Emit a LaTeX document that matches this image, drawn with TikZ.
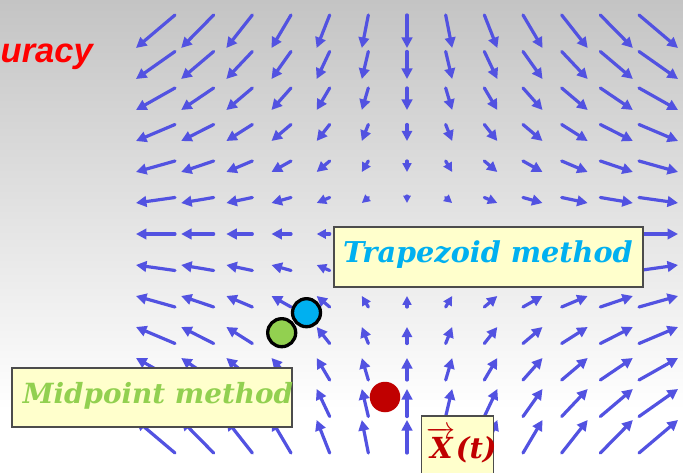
\RequirePackage{fix-cm}
\documentclass[tikz,border=0pt]{standalone}
\usepackage{fontspec}
\newfontfamily\arialfont{Liberation Sans}
\newfontfamily\notefont{DejaVu Serif}
\usetikzlibrary{arrows.meta,positioning}

\definecolor{fieldblue}{RGB}{82,82,225}
\definecolor{noteyellow}{RGB}{255,255,204}
\definecolor{trapblue}{RGB}{0,176,240}
\definecolor{midgreen}{RGB}{146,208,80}
\definecolor{xred}{RGB}{192,0,0}
\definecolor{bgtop}{RGB}{196,196,196}

\tikzset{
  field/.style={fieldblue, line width=3.2pt, line cap=round},
  notebox/.style={draw=black!70, line width=1.2pt, fill=noteyellow, inner sep=0pt},
  notetext/.style={inner sep=0pt, anchor=base, font=\notefont\bfseries\itshape},
  ringdot/.style={circle, draw=black, line width=3.3pt, inner sep=0pt, minimum size=28pt}
}

\begin{document}
\begin{tikzpicture}[x=1pt, y=1pt]
  \useasboundingbox (0,0) rectangle (683,472);
  \clip (0,0) rectangle (683,472);
  % background
  \fill[white] (0,0) rectangle (683,62);
  \shade[top color=bgtop, bottom color=white] (0,62) rectangle (683,472);
  % title, cut at the left edge
  \node[red, inner sep=0pt, anchor=base west, font=\arialfont\fontsize{34.5}{40}\selectfont\bfseries\itshape] (accuracy) at (0.5,409) {uracy};
  % saddle vector field
  \foreach \i in {-6,...,6}{
    \foreach \j in {-6,...,6}{
      \pgfmathsetmacro\vx{6.5*\i}
      \pgfmathsetmacro\vy{-5.5*\j}
      \pgfmathsetmacro\len{veclen(\vx,\vy)}
      \pgfmathsetmacro\hl{min(10.5,0.25*\len+6)}
      \ifdim\len pt>0.1pt
        \draw[field, -{Triangle[length=\hl pt, width=\hl pt]}] (407+38.67*\i, 238+36.5*\j) -- ++(\vx,\vy);
      \fi
    }
  }
  % trapezoid note
  \node[notebox, minimum width=309pt, minimum height=60pt] (trapbox) at (488.5,215) {};
  \node[notetext, trapblue] (trapnote) at (488,209.3) {\fontsize{28.7}{34}\selectfont Trapezoid method};
  % midpoint note
  \node[notebox, minimum width=280pt, minimum height=59pt] (midbox) at (152,74.5) {};
  \node[notetext, midgreen] (midnote) at (158,69) {\fontsize{27.8}{34}\selectfont Midpoint method};
  % exact solution note
  \node[notebox, minimum width=72pt, minimum height=70pt] (xbox) at (457.3,21) {};
  \node[notetext, xred] (xnote) at (461.7,14) {\fontsize{29}{34}\selectfont $\overrightarrow{\mbox{X}}\mbox{(t)}$};
  % the three points
  \node[ringdot, fill=trapblue] (trapdot) at (306.5,159.3) {};
  \node[ringdot, fill=midgreen] (middot) at (281.7,139.3) {};
  \node[circle, fill=xred, inner sep=0pt, minimum size=30.5pt] (xdot) at (385,75) {};
\end{tikzpicture}
\end{document}
